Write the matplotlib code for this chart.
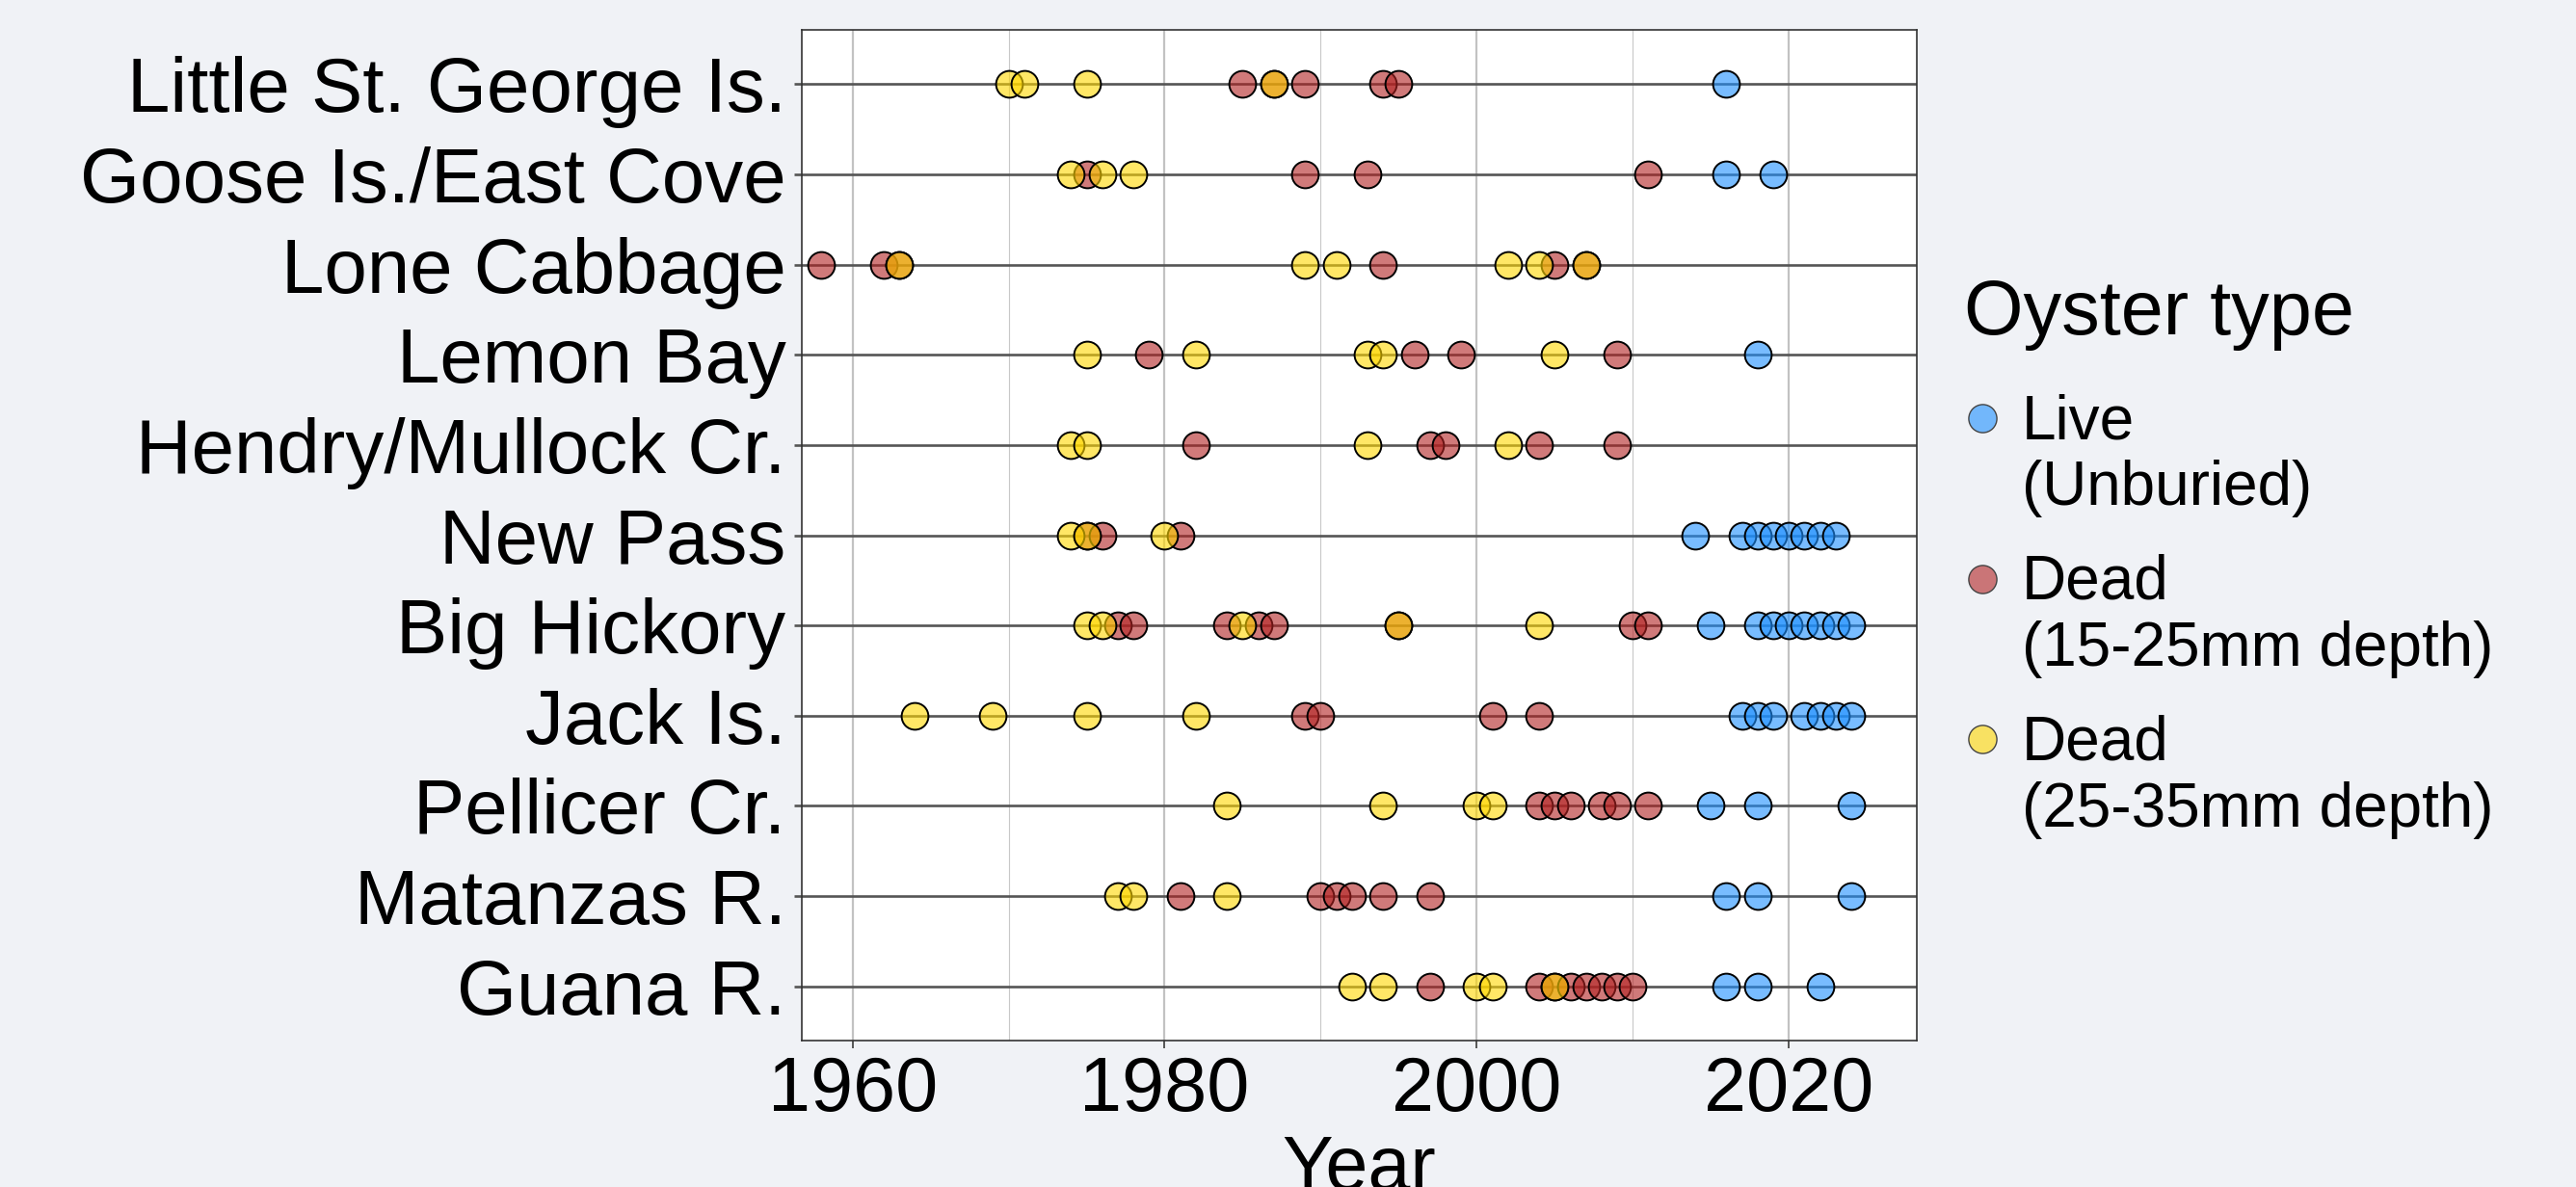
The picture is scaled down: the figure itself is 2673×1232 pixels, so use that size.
import matplotlib
matplotlib.use("Agg")
import matplotlib.pyplot as plt
from matplotlib.colors import to_rgba
from matplotlib.lines import Line2D
from matplotlib.ticker import MultipleLocator

plt.rcParams['font.family'] = ['Liberation Sans', 'DejaVu Sans']

# Sites, top to bottom
sites = ["Little St. George Is.", "Goose Is./East Cove", "Lone Cabbage", "Lemon Bay",
         "Hendry/Mullock Cr.", "New Pass", "Big Hickory", "Jack Is.", "Pellicer Cr.",
         "Matanzas R.", "Guana R."]

# Years per site for each oyster type
live_years = [
    [2016],
    [2016, 2019],
    [],
    [2018],
    [],
    [2014, 2017, 2018, 2019, 2020, 2021, 2022, 2023],
    [2015, 2018, 2019, 2020, 2021, 2022, 2023, 2024],
    [2017, 2018, 2019, 2021, 2022, 2023, 2024],
    [2015, 2018, 2024],
    [2016, 2018, 2024],
    [2016, 2018, 2022],
]
dead_shallow_years = [
    [1985, 1987, 1989, 1994, 1995],
    [1975, 1989, 1993, 2011],
    [1958, 1962, 1963, 1994, 2005, 2007],
    [1979, 1996, 1999, 2009],
    [1982, 1997, 1998, 2004, 2009],
    [1975, 1976, 1981],
    [1977, 1978, 1984, 1986, 1987, 1995, 2010, 2011],
    [1989, 1990, 2001, 2004],
    [2004, 2005, 2006, 2008, 2009, 2011],
    [1981, 1990, 1991, 1992, 1994, 1997],
    [1997, 2004, 2005, 2006, 2007, 2008, 2009, 2010],
]
dead_deep_years = [
    [1970, 1971, 1975, 1987],
    [1974, 1976, 1978],
    [1963, 1989, 1991, 2002, 2004, 2007],
    [1975, 1982, 1993, 1994, 2005],
    [1974, 1975, 1993, 2002],
    [1974, 1975, 1980],
    [1975, 1976, 1985, 1995, 2004],
    [1964, 1969, 1975, 1982],
    [1984, 1994, 2000, 2001],
    [1977, 1978, 1984],
    [1992, 1994, 2000, 2001, 2005],
]

type_labels = ["Live\n(Unburied)", "Dead\n(15-25mm depth)", "Dead\n(25-35mm depth)"]
type_colors = ["dodgerblue", "firebrick", "gold"]
type_data = [live_years, dead_shallow_years, dead_deep_years]

W, H = 2673, 1232
bg = '#F0F2F6'
fig = plt.figure(figsize=(W / 100, H / 100), dpi=100, facecolor=bg)
ax = fig.add_axes([832 / W, 1 - 1080 / H, (1989 - 832) / W, (1080 - 31) / H])

n = len(sites)
rows = [n - i for i in range(n)]

for data, col in zip(type_data, type_colors):
    xs, ys = [], []
    for row, years in zip(rows, data):
        xs += years
        ys += [row] * len(years)
    ax.scatter(xs, ys, s=400, facecolor=to_rgba(col, 0.6), edgecolor='black',
               linewidths=1.4, zorder=3)

ax.set_xlim(1956.75, 2028.2)
ax.set_ylim(0.4, n + 0.6)
ax.set_yticks(rows)
ax.set_yticklabels(sites)
ax.xaxis.set_major_locator(MultipleLocator(20))
ax.xaxis.set_minor_locator(MultipleLocator(10))

ax.set_axisbelow(True)
ax.grid(which='major', axis='x', color='#c2c2c2', lw=1.6)
ax.grid(which='minor', axis='x', color='#c8c8c8', lw=0.8)
ax.grid(which='major', axis='y', color='#555555', lw=1.9)

ax.tick_params(axis='x', which='major', length=5.8, width=1.4, color='#555555',
               pad=5, labelsize=57)
ax.tick_params(axis='x', which='minor', length=0)
ax.tick_params(axis='y', length=5.8, width=1.9, color='#555555', pad=6, labelsize=57.5)
for sp in ax.spines.values():
    sp.set_color('#333333')
    sp.set_linewidth(1.2)

ax.set_xlabel('Year', fontsize=57, labelpad=5)

# Legend drawn by hand so the key sits on the first line of each label
fig.text(2038 / W, 1 - 289 / H, 'Oyster type', fontsize=57, ha='left', va='top')
for i, (lab, col) in enumerate(zip(type_labels, type_colors)):
    top = 408 + 166.6 * i
    fig.text(2098 / W, 1 - top / H, lab, fontsize=46, ha='left', va='top')
    fig.add_artist(Line2D([2057 / W], [1 - (top + 26) / H], transform=fig.transFigure,
                          marker='o', markersize=21, markerfacecolor=to_rgba(col, 0.6),
                          markeredgecolor='#444444', markeredgewidth=1.0, lw=0))

fig.savefig('out.png', dpi=100, facecolor=bg)
